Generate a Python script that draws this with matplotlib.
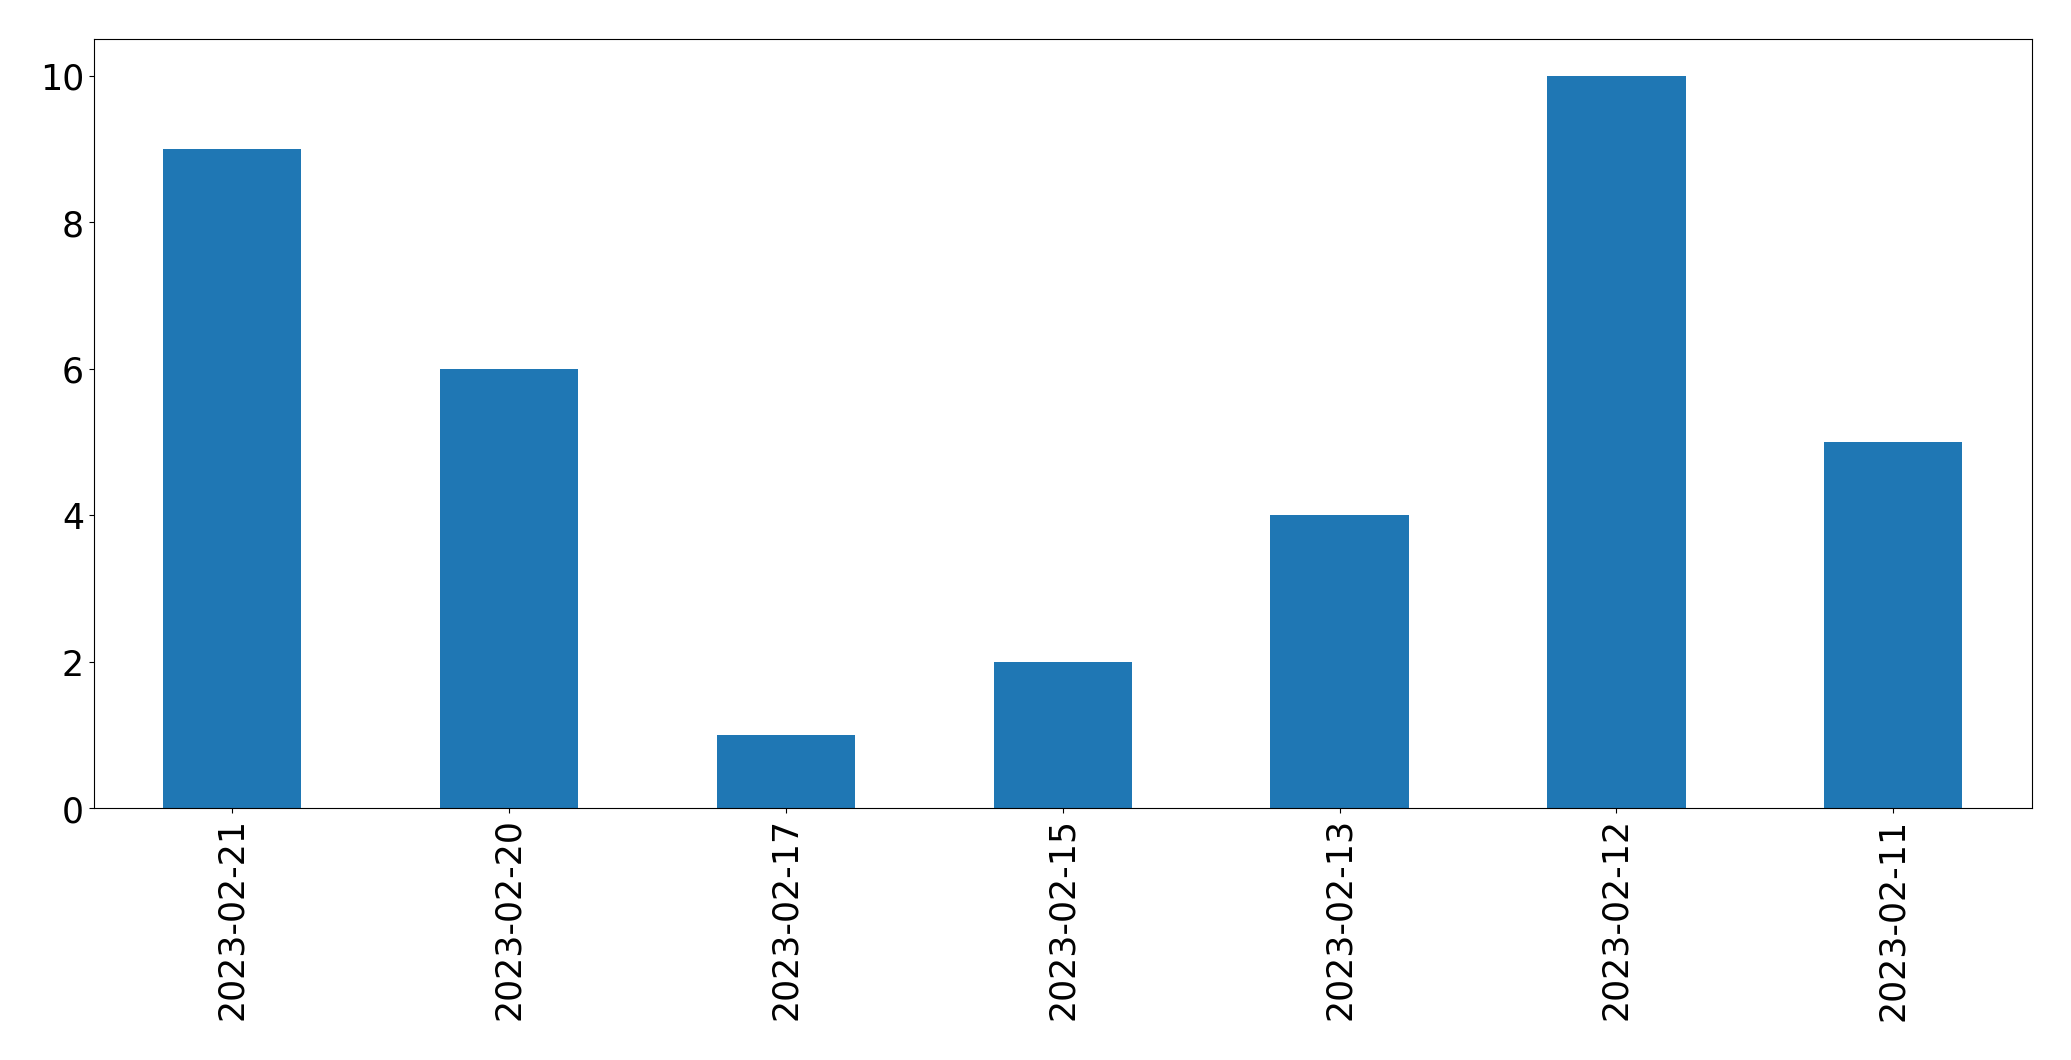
import pandas as pd
import matplotlib
import matplotlib.pyplot as plt

matplotlib.use('Agg')

# Counts per date (order as shown in the chart)
dates = ['2023-02-21', '2023-02-20', '2023-02-17', '2023-02-15',
         '2023-02-13', '2023-02-12', '2023-02-11']
counts = [9, 6, 1, 2, 4, 10, 5]

series = pd.Series(counts, index=dates)

fig = plt.figure(figsize=(20.71, 10.605), dpi=100)
ax = fig.add_axes([0.0453, 0.2375, 0.9357, 0.7253])
series.plot(kind='bar', ax=ax, color='#1f77b4')

ax.tick_params(axis='both', labelsize=25)
ax.set_yticks([0, 2, 4, 6, 8, 10])

fig.savefig('out.png', dpi=100)
